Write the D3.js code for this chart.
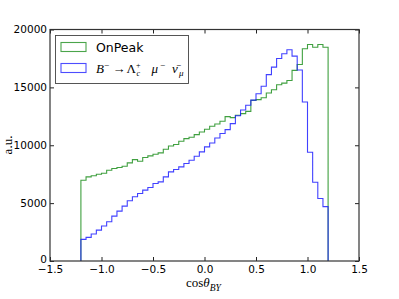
<!DOCTYPE html>
<html>
<head>
<meta charset="utf-8">
<script src="https://cdnjs.cloudflare.com/ajax/libs/d3/7.8.5/d3.min.js"></script>
<style>
  body { margin: 0; background: #fff; }
  svg { display: block; }
</style>
</head>
<body>
<svg id="chart" width="399" height="299"></svg>
<script>
// bin left edges (width 0.05) of cos(theta_BY)
var binLefts = [-1.2, -1.15, -1.1, -1.05, -1.0, -0.95, -0.9, -0.85, -0.8, -0.75,
    -0.7, -0.65, -0.6, -0.55, -0.5, -0.45, -0.4, -0.35, -0.3, -0.25,
    -0.2, -0.15, -0.1, -0.05, 0.0, 0.05, 0.1, 0.15, 0.2, 0.25,
    0.3, 0.35, 0.4, 0.45, 0.5, 0.55, 0.6, 0.65, 0.7, 0.75,
    0.8, 0.85, 0.9, 0.95, 1.0, 1.05, 1.1, 1.15];
var binWidth = 0.05;

// OnPeak counts
var onPeak = [6980, 7270, 7370, 7500, 7580, 7845, 7990, 8075, 8190, 8480,
    8760, 8620, 8940, 9080, 9220, 9340, 9650, 9940, 10060, 10345,
    10575, 10690, 10920, 11150, 11380, 11640, 11840, 12070, 12470, 12385,
    12590, 12730, 12930, 13880, 13940, 14110, 14510, 14800, 15230, 15370,
    15600, 16470, 16980, 18340, 18700, 18470, 18700, 18470];

// B- -> Lambda_c+ mu- nubar signal MC
var signalMC = [1870, 2040, 2330, 2670, 3020, 3390, 3880, 4310, 4740, 5200,
    5550, 5830, 6120, 6350, 6700, 6840, 7270, 7700, 7900, 8130,
    8420, 8710, 9050, 9425, 9860, 10200, 10630, 11010, 11350, 11870,
    12550, 13050, 13450, 13900, 14450, 15100, 16100, 16750, 17500, 17900,
    18250, 17700, 16500, 13735, 9400, 6800, 5400, 4700];

var xTicks = [-1.5, -1.0, -0.5, 0.0, 0.5, 1.0, 1.5];
var yTicks = [0, 5000, 10000, 15000, 20000];

var svg = d3.select('#chart');
var padding = {t: 29.5, r: 40, b: 38, l: 50};
var width = 399, height = 299;

var x = d3.scaleLinear().domain([-1.5, 1.5]).range([padding.l, width - padding.r]);
var y = d3.scaleLinear().domain([0, 20000]).range([height - padding.b, padding.t]);

// turn bin heights into a step outline like matplotlib histtype='step'
function stepPoints(values) {
    var pts = [[binLefts[0], 0]];
    values.forEach(function(v, i) {
        pts.push([binLefts[i], v]);
        pts.push([binLefts[i] + binWidth, v]);
    });
    pts.push([binLefts[binLefts.length - 1] + binWidth, 0]);
    return pts;
}

var line = d3.line()
    .x(function(d) { return x(d[0]); })
    .y(function(d) { return y(d[1]); });

var series = [
    {name: 'OnPeak', values: onPeak, color: '#1e8f1e'},
    {name: 'signal', values: signalMC, color: '#2020ff'}
];

svg.selectAll('.hist')
    .data(series)
    .enter().append('path')
    .attr('class', 'hist')
    .attr('d', function(d) { return line(stepPoints(d.values)); })
    .attr('fill', 'none')
    .attr('stroke', function(d) { return d.color; })
    .attr('stroke-opacity', 0.85)
    .attr('stroke-width', 1.1);

var fmt = function(d) { return d3.format('.1f')(d).replace('-', '\u2212'); };

// axes with inward ticks on all four sides
var gx = svg.append('g')
    .attr('transform', 'translate(0,' + (height - padding.b) + ')')
    .call(d3.axisBottom(x).tickValues(xTicks).tickFormat(fmt).tickSizeInner(-4).tickSizeOuter(0).tickPadding(5));
var gxt = svg.append('g')
    .attr('transform', 'translate(0,' + padding.t + ')')
    .call(d3.axisTop(x).tickValues(xTicks).tickFormat('').tickSizeInner(-4).tickSizeOuter(0));
var gy = svg.append('g')
    .attr('transform', 'translate(' + padding.l + ',0)')
    .call(d3.axisLeft(y).tickValues(yTicks).tickFormat(d3.format('d')).tickSizeInner(-4).tickSizeOuter(0).tickPadding(3));
var gyr = svg.append('g')
    .attr('transform', 'translate(' + (width - padding.r) + ',0)')
    .call(d3.axisRight(y).tickValues(yTicks).tickFormat('').tickSizeInner(-4).tickSizeOuter(0));

[gx, gxt, gy, gyr].forEach(function(g) {
    g.select('.domain').remove();
    g.selectAll('.tick line').attr('stroke', '#222');
    g.selectAll('.tick text')
        .attr('fill', '#000')
        .attr('font-family', 'DejaVu Sans')
        .attr('font-size', '10.5px');
});
// keep the "0" label just clear of the "-1.5" label below it
gy.selectAll('.tick text').filter(function(d) { return d === 0; }).attr('dy', '0.1em');

svg.append('rect')
    .attr('x', padding.l)
    .attr('y', padding.t)
    .attr('width', width - padding.l - padding.r)
    .attr('height', height - padding.t - padding.b)
    .attr('fill', 'none')
    .attr('stroke', '#333')
    .attr('stroke-width', 1.2);

// legend
var legend = svg.append('g');
legend.append('rect')
    .attr('x', 55.5).attr('y', 35.5).attr('width', 133).attr('height', 48)
    .attr('fill', '#fff').attr('stroke', '#444').attr('stroke-width', 0.9);
legend.selectAll('.swatch')
    .data(series)
    .enter().append('rect')
    .attr('class', 'swatch')
    .attr('x', 61).attr('y', function(d, i) { return 42.5 + i * 21; })
    .attr('width', 25).attr('height', 9)
    .attr('fill', '#fff')
    .attr('stroke', function(d) { return d.color; })
    .attr('stroke-opacity', 0.8)
    .attr('stroke-width', 1.1);

legend.append('text')
    .attr('x', 96).attr('y', 51.5)
    .attr('font-family', 'DejaVu Sans').attr('font-size', '12.5px')
    .text('OnPeak');

var mt = legend.append('text')
    .attr('y', 73)
    .attr('font-family', 'Liberation Serif').attr('font-size', '13px');
mt.append('tspan').attr('x', 96).attr('font-style', 'italic').text('B');
mt.append('tspan').attr('x', 104).attr('dy', -5).attr('font-size', '9px').text('\u2212');
mt.append('tspan').attr('x', 112.5).attr('dy', 5).text('\u2192');
mt.append('tspan').attr('x', 126.5).text('\u039B');
mt.append('tspan').attr('x', 136).attr('dy', -5.5).attr('font-size', '8px').text('+');
mt.append('tspan').attr('x', 136.5).attr('dy', 8.5).attr('font-size', '8px').attr('font-style', 'italic').text('c');
mt.append('tspan').attr('x', 151.5).attr('dy', -3).attr('font-style', 'italic').text('\u03BC');
mt.append('tspan').attr('x', 160).attr('dy', -5).attr('font-size', '9px').text('\u2212');
mt.append('tspan').attr('x', 172).attr('dy', 5).attr('font-style', 'italic').text('\u03BD\u0304');
mt.append('tspan').attr('x', 179).attr('dy', 3).attr('font-size', '9px').attr('font-style', 'italic').text('\u03BC');

// axis titles
var xl = svg.append('text')
    .attr('x', 186).attr('y', 287)
    .attr('font-family', 'Liberation Serif').attr('font-size', '13px');
xl.append('tspan').text('cos');
xl.append('tspan').attr('font-style', 'italic').text('\u03B8');
xl.append('tspan').attr('dy', 3.5).attr('font-size', '9.5px').attr('font-style', 'italic').text('BY');

svg.append('text')
    .attr('transform', 'translate(11.5,145) rotate(-90)')
    .attr('text-anchor', 'middle')
    .attr('font-family', 'Liberation Serif').attr('font-size', '13px')
    .text('a.u.');
</script>
</body>
</html>
